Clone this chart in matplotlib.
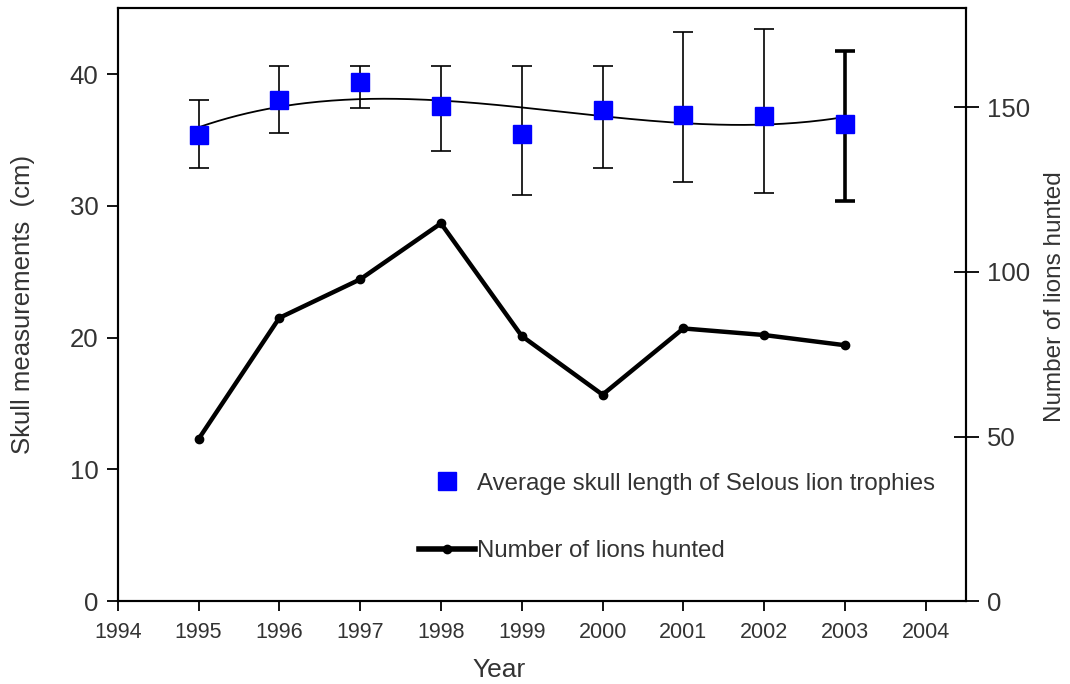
import numpy as np
import matplotlib
matplotlib.use("Agg")
import matplotlib.pyplot as plt
from matplotlib.lines import Line2D

plt.rcParams['font.family'] = ['Liberation Sans', 'DejaVu Sans']

years = [1995, 1996, 1997, 1998, 1999, 2000, 2001, 2002, 2003]
skull_mean = [35.4, 38.0, 39.4, 37.6, 35.45, 37.3, 36.9, 36.8, 36.2]
skull_low = [32.9, 35.5, 37.45, 34.2, 30.8, 32.9, 31.8, 31.0, 30.4]
skull_high = [38.05, 40.6, 40.6, 40.6, 40.6, 40.6, 43.2, 43.4, 41.75]
lions_hunted = [49.2, 86.0, 97.7, 114.7, 80.5, 62.7, 82.8, 80.8, 77.7]
xticks = list(range(1994, 2005))

fig = plt.figure(figsize=(10.7, 6.84), dpi=100)
ax = fig.add_axes([0.110, 0.121, 0.793, 0.867])
ax2 = ax.twinx()

yr = np.array(years)
mean = np.array(skull_mean)
err = [mean - np.array(skull_low), np.array(skull_high) - mean]

# error bars (2003 drawn heavier as in the original)
for i in range(len(years)):
    lw = 2.6 if years[i] == 2003 else 1.2
    ax.errorbar(yr[i], mean[i], yerr=[[err[0][i]], [err[1][i]]], fmt='none',
                ecolor='black', elinewidth=lw, capsize=7, capthick=lw, zorder=2)

# polynomial trend line
coef = np.polyfit(yr - 1995, mean, 3)
xs = np.linspace(1995, 2003, 200)
ax.plot(xs, np.polyval(coef, xs - 1995), color='black', lw=1.3, zorder=3)

ax.plot(yr, mean, 's', color='#0000ff', markersize=13, zorder=4)

ax2.plot(yr, lions_hunted, '-o', color='black', lw=3.2, markersize=6)

ax.set_xlim(1994, 2004.5)
ax.set_ylim(0, 45)
ax2.set_ylim(0, 180)
ax.set_xticks(xticks)
ax.set_yticks([0, 10, 20, 30, 40])
ax2.set_yticks([0, 50, 100, 150])

for a in (ax, ax2):
    for s in a.spines.values():
        s.set_linewidth(1.5)
ax.tick_params(axis='x', direction='out', length=7, width=1.3, labelsize=15.5,
               labelcolor='#333333', pad=8)
ax.tick_params(axis='y', direction='out', length=8, width=1.3, labelsize=18.5,
               labelcolor='#333333', pad=6)
ax2.tick_params(axis='y', direction='inout', length=18, width=1.3, labelsize=18.5,
                labelcolor='#333333', pad=6)

ax.set_xlabel('Year', fontsize=19, color='#333333')
ax.xaxis.set_label_coords(0.45, -0.095)
ax.set_ylabel('Skull measurements  (cm)', fontsize=18.5, color='#333333')
ax.yaxis.set_label_coords(-0.098, 0.5)
ax2.set_ylabel('Number of lions hunted', fontsize=17.5, color='#333333')
ax2.yaxis.set_label_coords(1.092, 0.513)

handles = [Line2D([], [], ls='none', marker='s', color='#0000ff', markersize=13),
           Line2D([], [], ls='-', lw=4, marker='o', color='black', markersize=6)]
labels = ['Average skull length of Selous lion trophies', 'Number of lions hunted']
ax.legend(handles, labels, loc='upper left', bbox_to_anchor=(0.330, 0.253),
          frameon=False, fontsize=17.3, labelspacing=1.9, handlelength=2.3,
          handletextpad=0.1, labelcolor='#333333')

fig.savefig('out.png', dpi=100)
